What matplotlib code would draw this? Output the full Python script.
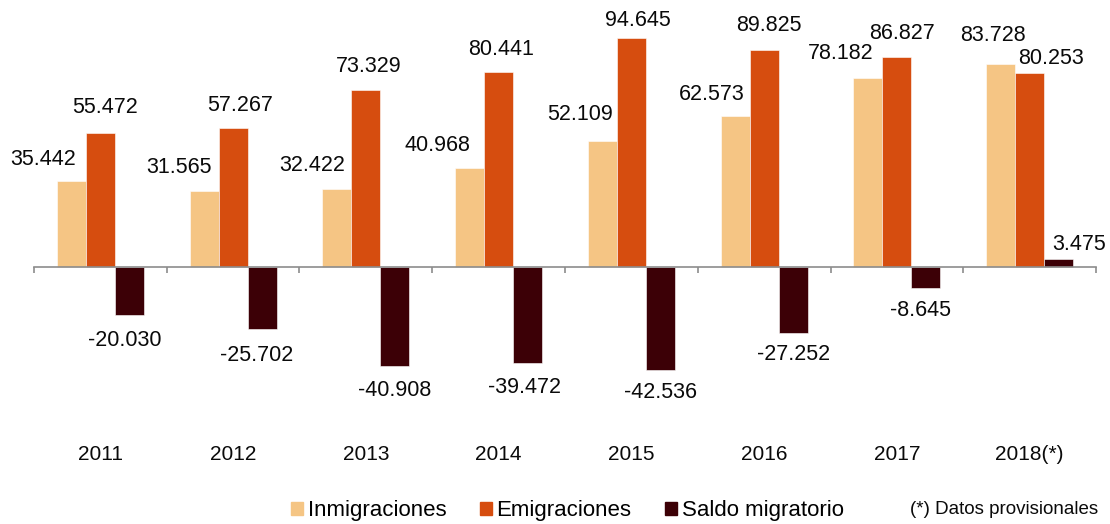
import numpy as np
import matplotlib
matplotlib.use("Agg")
import matplotlib.pyplot as plt
from matplotlib.patches import Patch

plt.rcParams['font.family'] = ['Liberation Sans', 'DejaVu Sans']

# data (personas)
years = ['2011', '2012', '2013', '2014', '2015', '2016', '2017', '2018(*)']
inmigraciones = [35442, 31565, 32422, 40968, 52109, 62573, 78182, 83728]
emigraciones = [55472, 57267, 73329, 80441, 94645, 89825, 86827, 80253]
saldo = [-20030, -25702, -40908, -39472, -42536, -27252, -8645, 3475]

c_inm = '#F5C584'
c_emi = '#D64D0F'
c_sal = '#3C0006'

# label offsets in pixels from the bar end (hand placed like the original)
off_inm = [(-28, 22), (-25, 23), (-25, 23), (-32, 22), (-22, 26), (-23, 21), (-27, 24), (-8, 29)]
off_emi = [(5, 25), (7, 23), (3, 23), (2, 23), (7, 17), (5, 24), (5, 23), (21, 14)]
off_sal = [(-5, -25), (-5, -26), (0, -25), (-3, -25), (0, -23), (0, -22), (-5, -23), (21, 14)]


def fmt(v):
    return '{:,}'.format(v).replace(',', '.')


fig = plt.figure(figsize=(11.1, 5.24), dpi=100)
ax = fig.add_axes([0.0306, 0.2134, 0.9568, 0.762])

x = np.arange(len(years))
w = 0.218
b1 = ax.bar(x - w, inmigraciones, w, color=c_inm, edgecolor='white', linewidth=0.4)
b2 = ax.bar(x, emigraciones, w, color=c_emi, edgecolor='white', linewidth=0.4)
b3 = ax.bar(x + w, saldo, w, color=c_sal, edgecolor='white', linewidth=0.4)

for bars, vals, offs in [(b1, inmigraciones, off_inm), (b2, emigraciones, off_emi), (b3, saldo, off_sal)]:
    for r, v, o in zip(bars, vals, offs):
        ax.annotate(fmt(v), (r.get_x() + r.get_width() / 2, v), xytext=o,
                    textcoords='offset pixels', ha='center', va='center',
                    fontsize=15.5, color='#0a0a0a')

ax.set_xlim(-0.5, len(years) - 0.5)
ax.set_ylim(-60000, 105000)

for s in ['top', 'right', 'left']:
    ax.spines[s].set_visible(False)
ax.spines['bottom'].set_position(('data', 0))
ax.spines['bottom'].set_color('#8C8C8C')
ax.spines['bottom'].set_linewidth(1.2)
ax.set_yticks([])

ax.set_xticks(x)
ax.set_xticklabels(years, fontsize=15, color='#0a0a0a')
ax.set_xticks(np.arange(-0.5, len(years)), minor=True)
ax.tick_params(axis='x', which='major', length=0, pad=128)
ax.tick_params(axis='x', which='minor', length=4.5, width=1.2, color='#8C8C8C', direction='out')

handles = [Patch(color=c_inm, label='Inmigraciones'),
           Patch(color=c_emi, label='Emigraciones'),
           Patch(color=c_sal, label='Saldo migratorio')]
fig.legend(handles=handles, loc='center left', bbox_to_anchor=(0.262, 0.025),
           ncol=3, frameon=False, fontsize=16, handlelength=0.54, handleheight=0.54,
           handletextpad=0.22, columnspacing=1.5, borderpad=0, borderaxespad=0)
fig.text(0.989, 0.027, '(*) Datos provisionales', ha='right', va='center',
         fontsize=13.5, color='#0a0a0a')

fig.savefig('out.png', dpi=100)
